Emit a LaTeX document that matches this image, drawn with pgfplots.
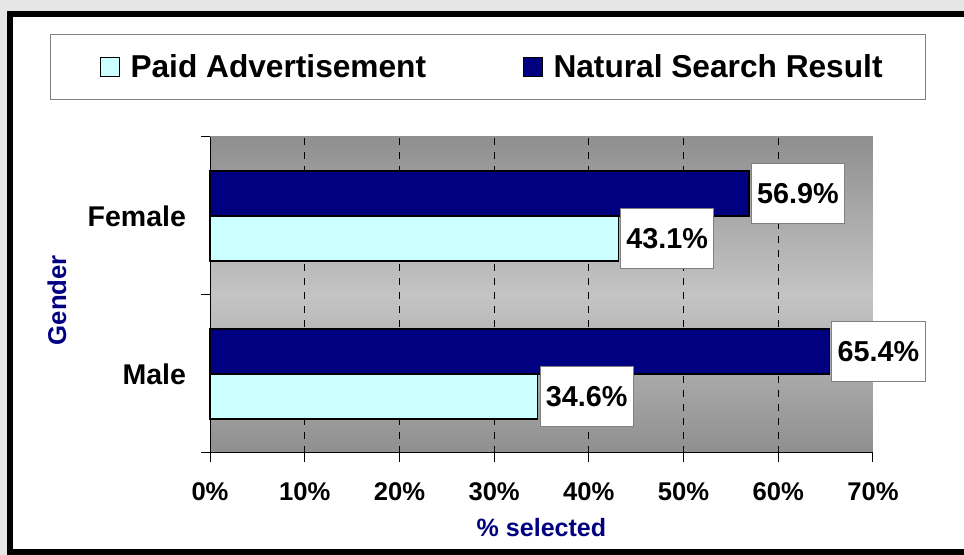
\documentclass[border=0pt]{standalone}
\usepackage{fontspec}
\setmainfont{Liberation Sans}
\usepackage{pgfplots}
\pgfplotsset{compat=1.18}
\definecolor{navyblue}{HTML}{000080}
\definecolor{paidcyan}{HTML}{CCFFFF}
\definecolor{outerbg}{HTML}{E6E6E6}
\definecolor{bgdark}{HTML}{8F8F8F}
\definecolor{bglight}{HTML}{C4C4C4}
\definecolor{legborder}{HTML}{808080}
\begin{document}
\begin{tikzpicture}
\useasboundingbox (0,0) rectangle (723pt,416.25pt);
\fill[outerbg] (0,0) rectangle (723pt,416.25pt);
\fill[white] (7.5pt,2.6pt) rectangle (723pt,406.1pt);
\draw[black,line width=4.5pt,line cap=butt] (723pt,406.1pt) -- (7.5pt,406.1pt) -- (7.5pt,2.6pt) -- (723pt,2.6pt);
\begin{axis}[
  at={(157.5pt,76.5pt)}, anchor=south west,
  scale only axis, width=497.25pt, height=237pt,
  xbar, bar width=0.285,
  xmin=0, xmax=70, ymin=-0.5, ymax=1.5,
  clip=false,
  axis x line*=bottom, axis y line*=left,
  axis line style={black, line width=0.75pt},
  tick style={black, line width=0.75pt},
  tick align=outside, major tick length=6.5pt,
  xtick={0,10,...,70},
  xticklabels={0\%,10\%,20\%,30\%,40\%,50\%,60\%,70\%},
  ytick={-0.5,0.5,1.5}, yticklabels={},
  extra y ticks={0,1}, extra y tick labels={Male,Female},
  extra y tick style={major tick length=0pt},
  extra x ticks={10,20,30,40,50,60}, extra x tick labels={},
  extra x tick style={grid=major, major tick length=0pt},
  grid style={black, dash pattern=on 5.5pt off 5pt, line width=0.75pt},
  xticklabel style={font=\bfseries\fontsize{19.2}{22}\selectfont, anchor=base, yshift=-29pt},
  yticklabel style={font=\bfseries\fontsize{21.4}{25}\selectfont, anchor=east, xshift=-14.5pt},
  xlabel={\% selected},
  xlabel style={font=\bfseries\fontsize{18.8}{22}\selectfont, text=navyblue, at={(axis description cs:0.5,-0.2627)}, anchor=base},
  ylabel={Gender},
  ylabel style={font=\bfseries\fontsize{19.3}{22}\selectfont, text=navyblue, at={(axis description cs:-0.2308,0.484)}, anchor=center},
  axis background/.style={top color=bgdark, bottom color=bgdark, middle color=bglight},
  legend style={at={(axis description cs:-0.2413,1.2215)}, anchor=west, draw=legborder, line width=0.75pt, font=\bfseries\fontsize{23.75}{28}\selectfont, inner xsep=30pt, inner ysep=12.75pt, /tikz/every even column/.append style={column sep=63.5pt}},
  legend columns=2, reverse legend,
  legend image code/.code={\path[draw=none,fill=none] (-7.5pt,0pt) -- (20.5pt,0pt);\draw[#1,draw=black,line width=0.75pt] (0pt,-7.1pt) rectangle (14.2pt,7.1pt);},
  nodes near coords, point meta=explicit symbolic,
  every node near coord/.append style={anchor=west, xshift=1.5pt, fill=white, draw=legborder, line width=0.75pt, font=\bfseries\fontsize{21.6}{25}\selectfont, text=black, inner xsep=4.3pt, inner ysep=14.8pt, text height=15.4pt, text depth=0pt},
]
\addplot[fill=navyblue, draw=black, line width=1pt, bar shift=0.1425] coordinates {(65.4,0) [65.4\%] (56.9,1) [56.9\%]};
\addlegendentry{Natural Search Result}
\addplot[fill=paidcyan, draw=black, line width=1pt, bar shift=-0.1425] coordinates {(34.6,0) [34.6\%] (43.1,1) [43.1\%]};
\addlegendentry{Paid Advertisement}
\end{axis}
\end{tikzpicture}
\end{document}
